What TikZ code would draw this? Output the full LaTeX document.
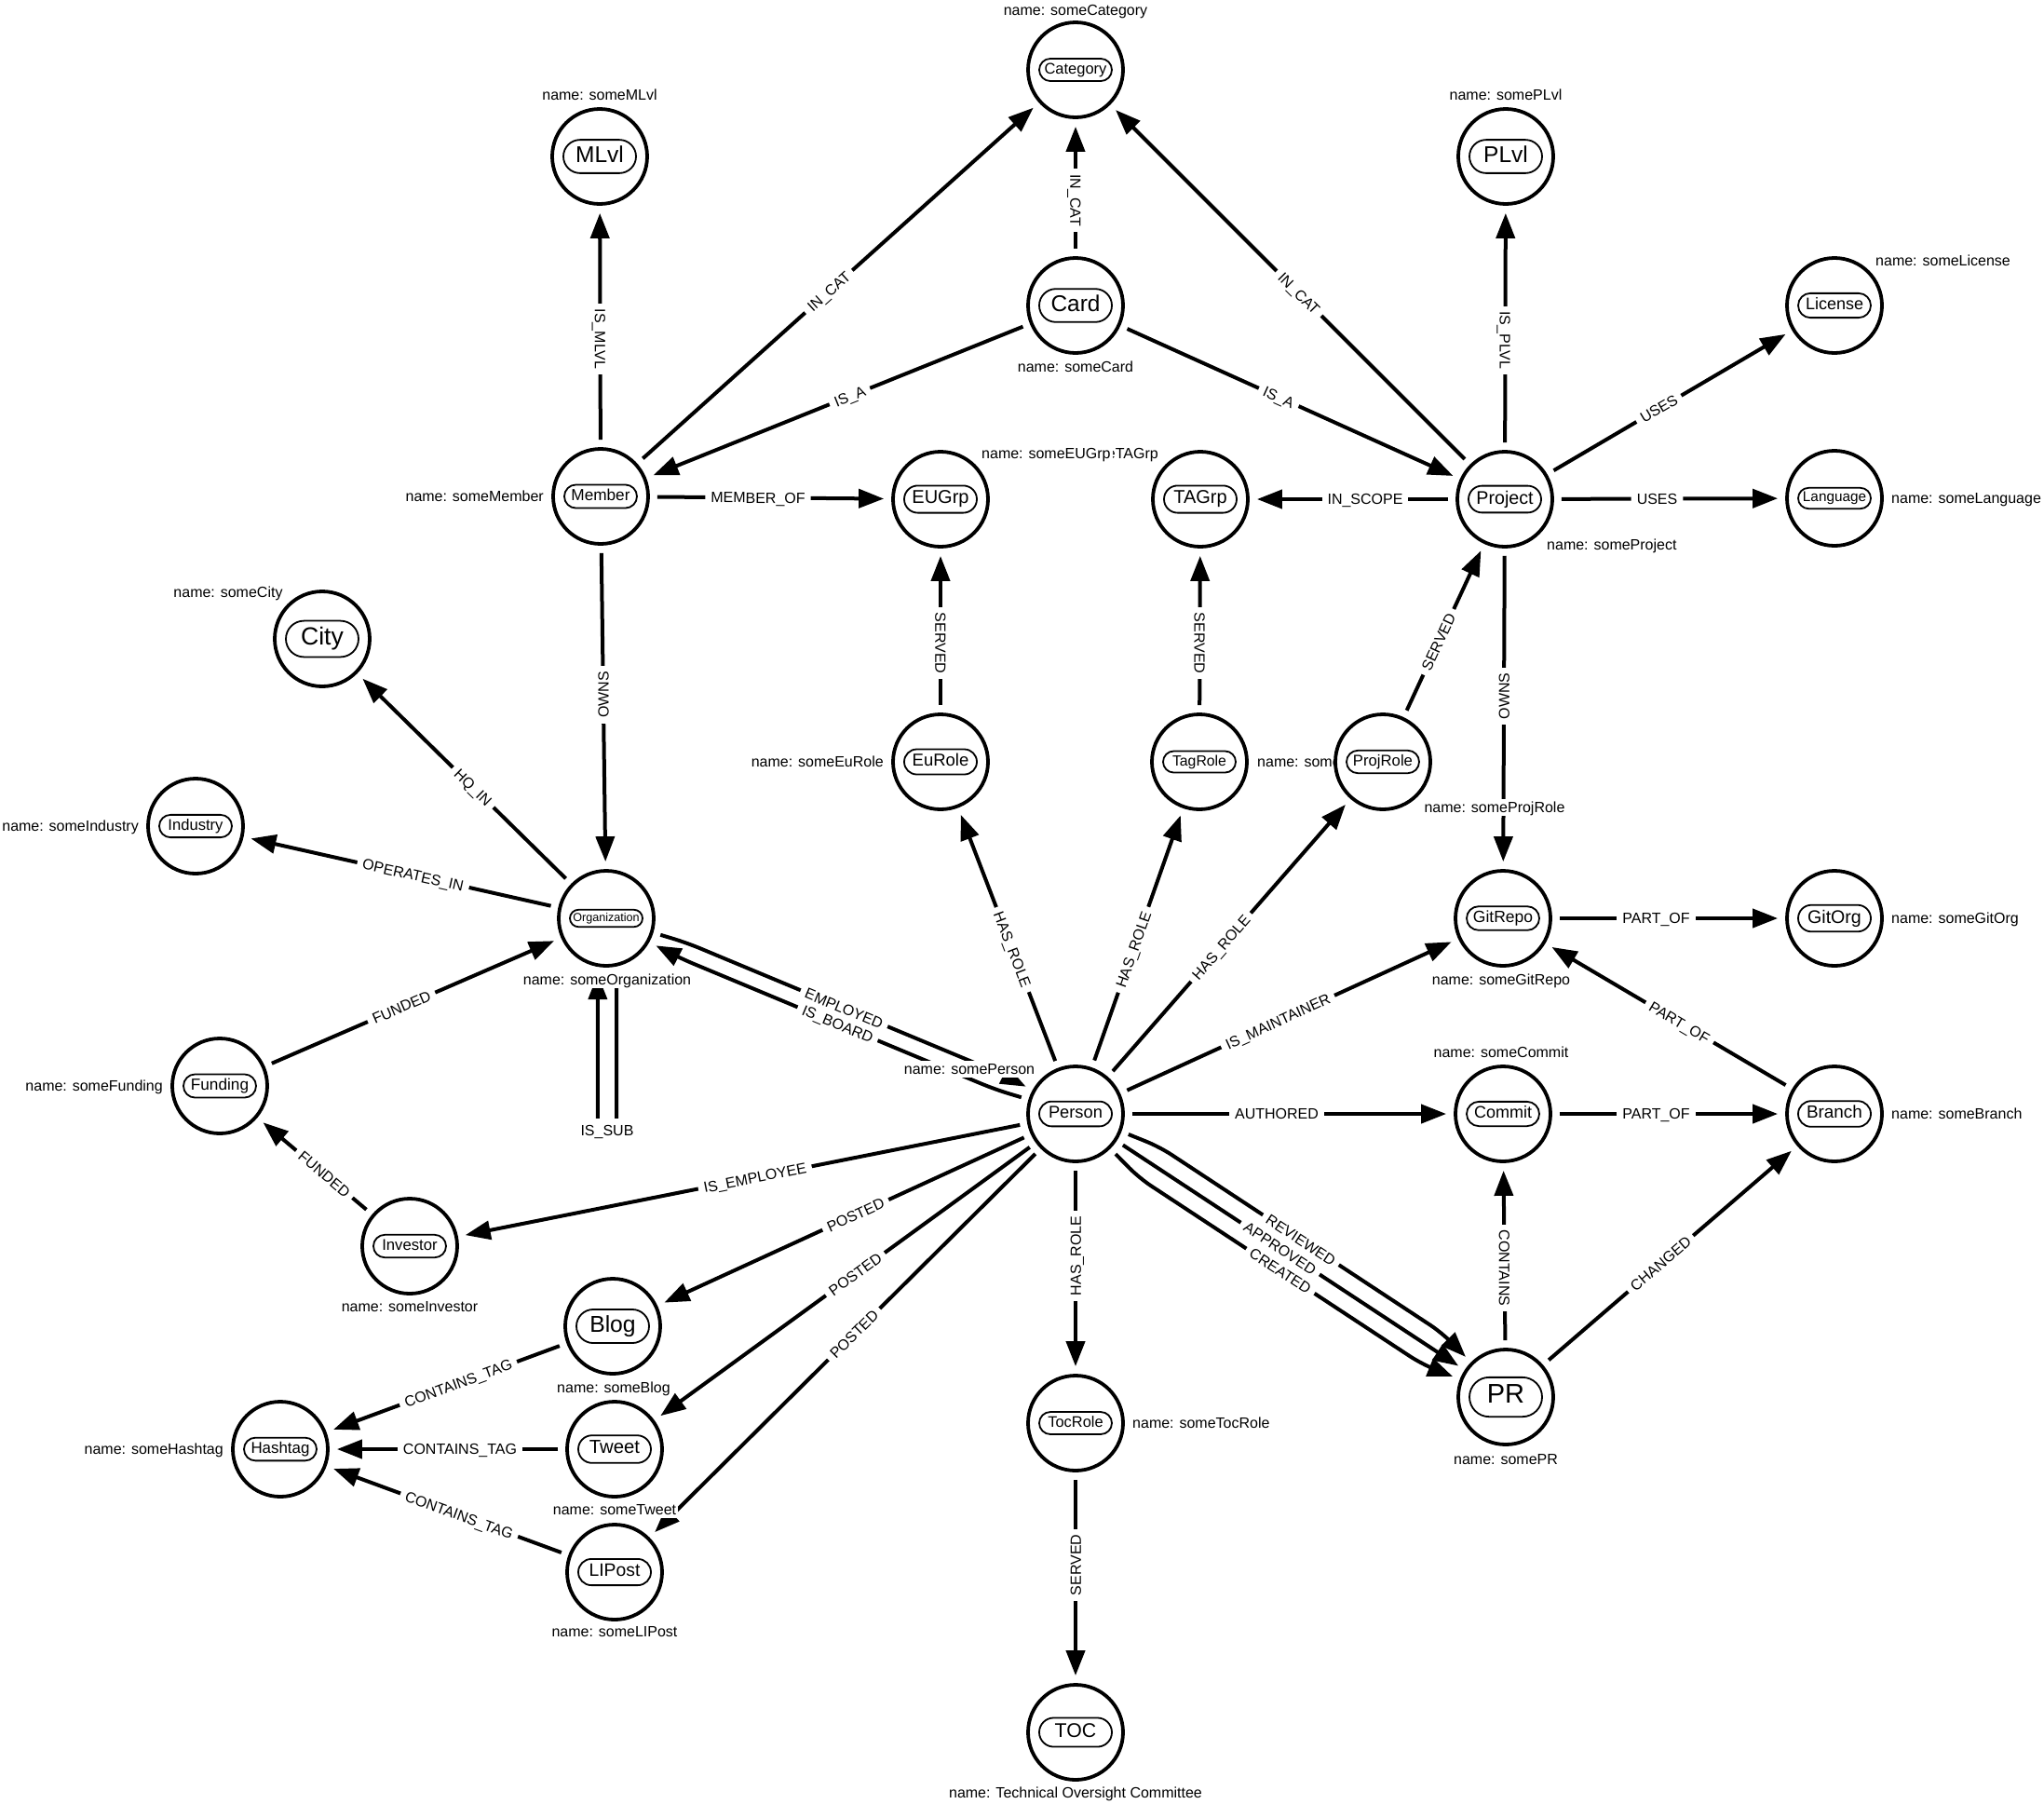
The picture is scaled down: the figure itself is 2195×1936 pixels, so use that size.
\documentclass[tikz,border=0pt]{standalone}
\usepackage{fontspec}
\setmainfont{Liberation Sans}
\usetikzlibrary{arrows.meta,calc,shapes.misc}
\pgfdeclarelayer{edgelayer}
\pgfsetlayers{edgelayer,main}
\newcounter{elc}
\tikzset{
  ent/.style={circle, draw, line width=3.8pt, minimum size=102pt, inner sep=0pt, fill=white},
  pill/.style={rounded rectangle, draw, line width=1.8pt, minimum width=86pt, inner xsep=4pt, inner ysep=0pt, fill=white},
  edge/.style={line width=4pt, shorten <=8pt, shorten >=8pt, -{Triangle[length=27pt,width=20pt]}},
  elab/.style={fill=white, inner xsep=6pt, inner ysep=2pt, text height=11.5pt, text depth=0pt, font=\fontsize{16}{18}\selectfont},
  nlab/.style={fill=white, inner xsep=2pt, inner ysep=3pt, text height=11.5pt, text depth=0pt, font=\fontsize{16}{18}\selectfont},
}
\newcommand\ent[4]{%
  \node[ent] (#1) at #2 {};
  \node[pill, font=\fontsize{#3}{#3}\selectfont, minimum height={1.46*#3}] (#1-t) at (#1) {\vphantom{Hg}#4};
}
\newcommand\nm[4][]{%
  \node[nlab,#1] (#2-n) at #3 {name: #4};
}
\newcommand\rel[4][sloped]{%
  \stepcounter{elc}%
  \draw[edge] (#2) -- (#3);
  \path (#2.center) -- ($(#3.center)!27pt!(#2.center)$) node[elab, midway, #1] (e\arabic{elc}) {#4};
}
\begin{document}
\begin{tikzpicture}[x=1pt,y=-1pt]
\useasboundingbox (0,0) rectangle (2195,1936);

% entities and their name labels
\ent{Category}{(1155,75)}{16.5}{Category}
\nm{Category}{(1155,11)}{someCategory}
\ent{MLvl}{(644,168)}{24.5}{MLvl}
\nm{MLvl}{(644,102)}{someMLvl}
\ent{PLvl}{(1617,168)}{24.5}{PLvl}
\nm{PLvl}{(1617,102)}{somePLvl}
\ent{Card}{(1155,328)}{24.4}{Card}
\nm{Card}{(1155,394)}{someCard}
\ent{License}{(1970,328)}{18}{License}
\nm[anchor=west]{License}{(2012,280)}{someLicense}
\ent{Member}{(645,533)}{17.2}{Member}
\nm[anchor=east]{Member}{(586,533)}{someMember}
\ent{TAGrp}{(1289,536)}{20}{TAGrp}
\nm[anchor=east]{TAGrp}{(1246,487)}{someTAGrp}
\ent{EUGrp}{(1010,536)}{20}{EUGrp}
\nm[anchor=west]{EUGrp}{(1052,487)}{someEUGrp}
\ent{Project}{(1616,536)}{19.7}{Project}
\nm[anchor=west]{Project}{(1659,585)}{someProject}
\ent{Language}{(1970,535)}{15.3}{Language}
\nm[anchor=west]{Language}{(2029,535)}{someLanguage}
\ent{City}{(346,686)}{26.6}{City}
\nm{City}{(245,636)}{someCity}
\ent{EuRole}{(1010,818)}{18.5}{EuRole}
\nm[anchor=east]{EuRole}{(951,818)}{someEuRole}
\ent{TagRole}{(1288,818)}{15.8}{TagRole}
\nm[anchor=west]{TagRole}{(1348,818)}{someTagRole}
\ent{ProjRole}{(1485,818)}{16.7}{ProjRole}
\nm{ProjRole}{(1605,867)}{someProjRole}
\ent{Industry}{(210,887)}{16.6}{Industry}
\nm[anchor=east]{Industry}{(151,887)}{someIndustry}
\ent{Org}{(651,986)}{12.6}{Organization}
\ent{GitRepo}{(1614,986)}{17.5}{GitRepo}
\nm{GitRepo}{(1612,1052)}{someGitRepo}
\ent{GitOrg}{(1970,986)}{19.6}{GitOrg}
\nm[anchor=west]{GitOrg}{(2029,986)}{someGitOrg}
\ent{Funding}{(236,1166)}{17.2}{Funding}
\nm[anchor=east]{Funding}{(177,1166)}{someFunding}
\ent{Person}{(1155,1196)}{18.3}{Person}
\nm{Person}{(1041,1148)}{somePerson}
\ent{Commit}{(1614,1196)}{18}{Commit}
\nm{Commit}{(1612,1130)}{someCommit}
\ent{Branch}{(1970,1196)}{18.9}{Branch}
\nm[anchor=west]{Branch}{(2029,1196)}{someBranch}
\ent{Investor}{(440,1338)}{16.7}{Investor}
\nm{Investor}{(440,1403)}{someInvestor}
\ent{Blog}{(658,1424)}{24.7}{Blog}
\nm{Blog}{(659,1490)}{someBlog}
\ent{Hashtag}{(301,1556)}{16.9}{Hashtag}
\nm[anchor=east]{Hashtag}{(242,1556)}{someHashtag}
\ent{Tweet}{(660,1556)}{20.3}{Tweet}
\nm{Tweet}{(660,1621)}{someTweet}
\ent{TocRole}{(1155,1528)}{16.4}{TocRole}
\nm[anchor=west]{TocRole}{(1214,1528)}{someTocRole}
\ent{PR}{(1617,1500)}{29}{PR}
\nm{PR}{(1617,1567)}{somePR}
\ent{LIPost}{(660,1688)}{19.3}{LIPost}
\nm{LIPost}{(660,1752)}{someLIPost}
\ent{TOC}{(1155,1860)}{21.3}{TOC}
\nm{TOC}{(1155,1925)}{Technical Oversight Committee}
\nm{Org}{(652,1052)}{someOrganization}

% waypoints of the parallel and looping relations
\coordinate (emp1) at (737.5,1012.3);
\coordinate (emp2) at (1075.4,1153.1);
\coordinate (brd1) at (1068.5,1169.7);
\coordinate (brd2) at (730.6,1028.9);
\coordinate (rev1) at (1245.4,1231.5);
\coordinate (rev2) at (1548.6,1431.1);
\coordinate (cre1) at (1223.4,1264.9);
\coordinate (cre2) at (1526.6,1464.5);
\coordinate (sub1) at (662,1214);
\coordinate (sub2) at (642,1214);

\begin{pgfonlayer}{edgelayer}
\rel[rotate=-90]{Card}{Category}{IN\_CAT}
\rel{Member}{Category}{IN\_CAT}
\rel{Project}{Category}{IN\_CAT}
\rel[rotate=-90]{Member}{MLvl}{IS\_MLVL}
\rel{Card}{Member}{IS\_A}
\rel{Card}{Project}{IS\_A}
\rel[rotate=-90]{Project}{PLvl}{IS\_PLVL}
\rel{Project}{License}{USES}
\rel{Project}{Language}{USES}
\rel{Member}{EUGrp}{MEMBER\_OF}
\rel{Project}{TAGrp}{IN\_SCOPE}
\rel[rotate=90]{Member}{Org}{OWNS}
\rel[rotate=-90]{EuRole}{EUGrp}{SERVED}
\rel[rotate=-90]{TagRole}{TAGrp}{SERVED}
\rel{ProjRole}{Project}{SERVED}
\rel[rotate=90]{Project}{GitRepo}{OWNS}
\rel{Org}{City}{HQ\_IN}
\rel{Org}{Industry}{OPERATES\_IN}
\rel{Funding}{Org}{FUNDED}
\rel{Investor}{Funding}{FUNDED}
\rel{Person}{Investor}{IS\_EMPLOYEE}
\rel{Person}{EuRole}{HAS\_ROLE}
\rel{Person}{TagRole}{HAS\_ROLE}
\rel{Person}{ProjRole}{HAS\_ROLE}
\rel[rotate=90]{Person}{TocRole}{HAS\_ROLE}
\rel[rotate=90]{TocRole}{TOC}{SERVED}
\rel{Person}{GitRepo}{IS\_MAINTAINER}
\rel{Person}{Commit}{AUTHORED}
\rel{Commit}{Branch}{PART\_OF}
\rel{GitRepo}{GitOrg}{PART\_OF}
\rel{Branch}{GitRepo}{PART\_OF}
\rel[rotate=-90]{PR}{Commit}{CONTAINS}
\rel{PR}{Branch}{CHANGED}
\rel{Person}{Blog}{POSTED}
\rel{Person}{Tweet}{POSTED}
\rel{Person}{LIPost}{POSTED}
\rel{Blog}{Hashtag}{CONTAINS\_TAG}
\rel{Tweet}{Hashtag}{CONTAINS\_TAG}
\rel{LIPost}{Hashtag}{CONTAINS\_TAG}
\rel{Person}{PR}{APPROVED}
% parallel relations
\draw[edge, rounded corners=15pt] (Org.-17) -- (emp1) -- (emp2) -- (Person.151);
\path (emp1) -- (emp2) node[elab, midway, sloped, inner ysep=1pt] (lEMP) {EMPLOYED};
\draw[edge, rounded corners=15pt] (Person.163) -- (brd1) -- (brd2) -- (Org.-29);
\path (brd2) -- (brd1) node[elab, midway, sloped, inner ysep=1pt] (lBRD) {IS\_BOARD};
\draw[edge, rounded corners=15pt] (Person.-21) -- (rev1) -- (rev2) -- (PR.135);
\path (rev1) -- (rev2) node[elab, midway, sloped, inner ysep=1pt] (lREV) {REVIEWED};
\draw[edge, rounded corners=15pt] (Person.-45) -- (cre1) -- (cre2) -- (PR.159);
\path (cre1) -- (cre2) node[elab, midway, sloped, inner ysep=1pt] (lCRE) {CREATED};
% self relation
\draw[edge, rounded corners=9pt] (Org.-78) -- (sub1) -- (sub2) -- (Org.-100);
\path (sub1) -- (sub2) node[elab, midway, inner ysep=7pt] (lSUB) {IS\_SUB};
\end{pgfonlayer}
\end{tikzpicture}
\end{document}
